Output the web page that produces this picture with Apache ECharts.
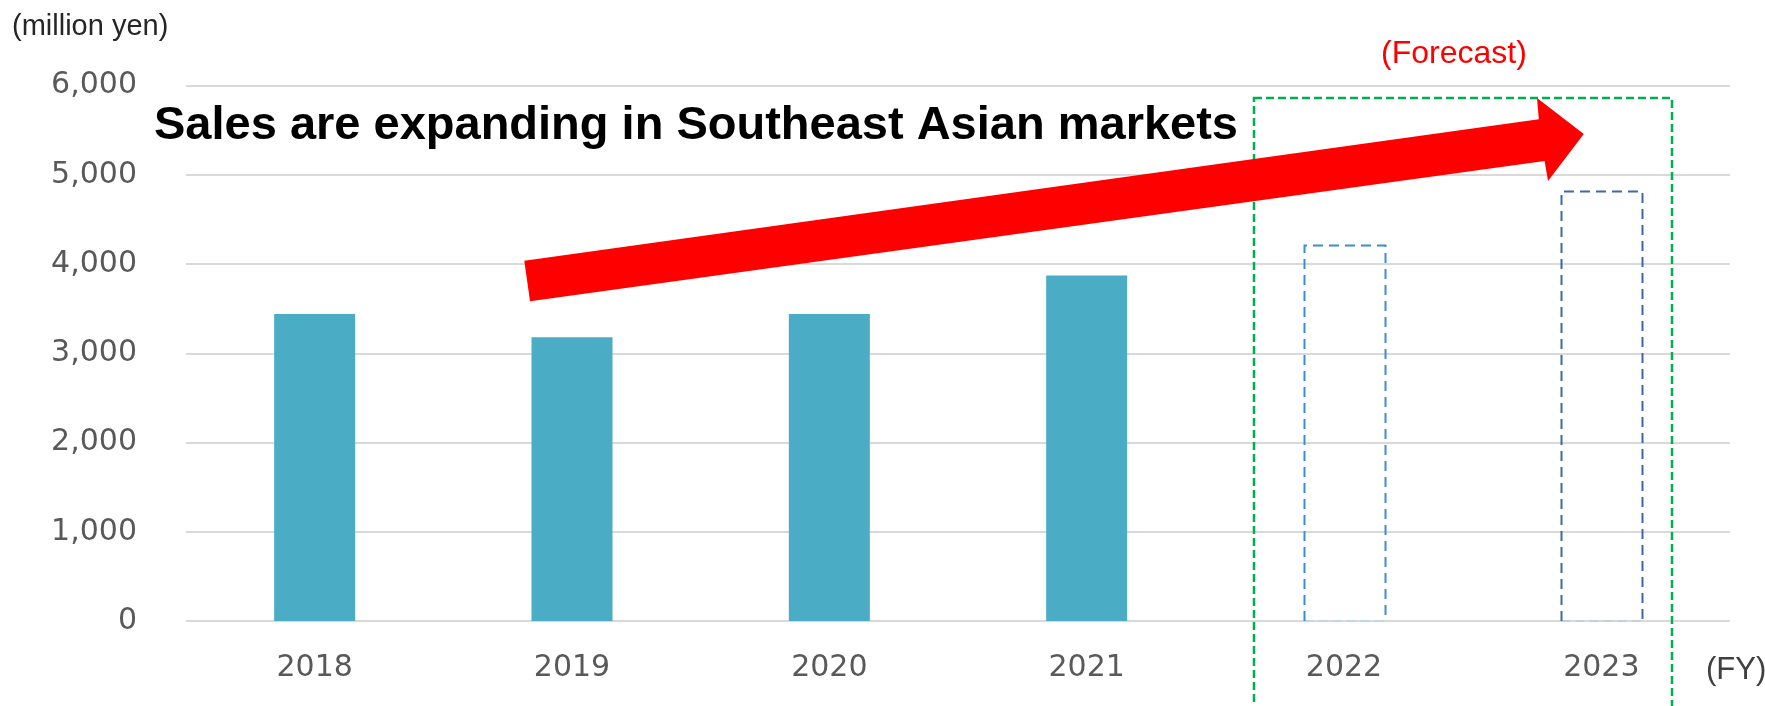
<!DOCTYPE html>
<html>
<head>
<meta charset="utf-8">
<title>Sales in Southeast Asian markets</title>
<script src="https://cdn.jsdelivr.net/npm/echarts@6/dist/echarts.min.js"></script>
<style>
  html, body { margin: 0; padding: 0; background: #ffffff; }
  #chart { width: 1765px; height: 706px; }
</style>
</head>
<body>
<div id="chart"></div>
<script>
// Fiscal years on the category axis
const years = ['2018', '2019', '2020', '2021', '2022', '2023'];
// Results (million yen); forecast years are left empty
const actualSales = [3440, 3180, 3440, 3870, null, null];
// Forecast (million yen)
const forecastSales = [null, null, null, null, 4210, 4820];
// Outline colours of the two forecast bars
const forecastStroke = ['#3A8FD3', '#3C69A6'];
const forecastBase = ['#BBD6EE', '#C3CEDF'];

const yMin = 0;
const yMax = 6000;
const yStep = 1000;

const BAR_WIDTH = 81;

const chart = echarts.init(document.getElementById('chart'), null, { renderer: 'canvas' });

const forecastData = [];
forecastSales.forEach(function (v, i) {
  if (v != null) forecastData.push([i, v]);
});

// Forecast bars: dashed outline, lighter dashed base on the zero line
function renderForecast(params, api) {
  const idx = api.value(0);
  const val = api.value(1);
  const top = api.coord([idx, val]);
  const base = api.coord([idx, 0]);
  const x0 = Math.round(top[0] - BAR_WIDTH / 2) + 0.5;
  const x1 = x0 + BAR_WIDTH;
  const yt = Math.round(top[1]) + 0.5;
  const yb = Math.round(base[1]);
  const k = params.dataIndex;
  return {
    type: 'group',
    children: [
      {
        type: 'line',
        shape: { x1: x0, y1: yb, x2: x1, y2: yb },
        style: { stroke: forecastBase[k], lineWidth: 2, lineDash: [9, 5] }
      },
      {
        type: 'polyline',
        shape: { points: [[x0, yb], [x0, yt], [x1, yt], [x1, yb]] },
        style: { stroke: forecastStroke[k], lineWidth: 2, lineDash: [10, 6], fill: null }
      }
    ]
  };
}

const option = {
  backgroundColor: '#ffffff',
  animation: false,
  grid: {
    left: 186,
    right: 35,
    top: 85.5,
    bottom: 85,
    containLabel: false,
    outerBoundsMode: 'none'
  },
  xAxis: {
    type: 'category',
    data: years,
    axisLine: { show: false },
    axisTick: { show: false },
    axisLabel: {
      margin: 32,
      color: '#595959',
      fontFamily: 'DejaVu Sans',
      fontSize: 30
    }
  },
  yAxis: {
    type: 'value',
    min: yMin,
    max: yMax,
    interval: yStep,
    axisLine: { show: false },
    axisTick: { show: false },
    splitLine: { lineStyle: { color: '#D9D9D9', width: 2 } },
    axisLabel: {
      margin: 49,
      color: '#595959',
      fontFamily: 'DejaVu Sans',
      fontSize: 30,
      padding: [0, 0, 10, 0],
      formatter: function (v) { return v.toLocaleString('en-US'); }
    }
  },
  series: [
    {
      name: 'Sales',
      type: 'bar',
      data: actualSales,
      barWidth: BAR_WIDTH,
      itemStyle: { color: '#4BACC6' }
    },
    {
      name: 'Forecast',
      type: 'custom',
      data: forecastData,
      renderItem: renderForecast,
      z: 3
    }
  ],
  graphic: [
    {
      type: 'text',
      x: 12,
      y: 27,
      style: {
        text: '(million yen)',
        fontFamily: 'Liberation Sans',
        fontSize: 29,
        fill: '#262626',
        align: 'left',
        verticalAlign: 'middle'
      }
    },
    {
      type: 'text',
      x: 1454,
      y: 54,
      style: {
        text: '(Forecast)',
        fontFamily: 'Liberation Sans',
        fontSize: 32,
        fill: '#FF0000',
        align: 'center',
        verticalAlign: 'middle'
      }
    },
    {
      type: 'text',
      x: 1706,
      y: 670,
      style: {
        text: '(FY)',
        fontFamily: 'Liberation Sans',
        fontSize: 31,
        fill: '#404040',
        align: 'left',
        verticalAlign: 'middle'
      }
    },
    {
      // forecast period frame
      type: 'rect',
      z: 10,
      shape: { x: 1254, y: 98, width: 418, height: 640 },
      style: { fill: null, stroke: '#00B050', lineWidth: 2.5, lineDash: [8, 4] }
    },
    {
      // growth arrow
      type: 'polygon',
      z: 20,
      shape: {
        points: [
          [524.3, 260.7],
          [1538.8, 119.3],
          [1537, 98],
          [1583.8, 134],
          [1548, 181],
          [1544.6, 161],
          [530, 301.3]
        ]
      },
      style: { fill: '#FF0000' }
    },
    {
      type: 'text',
      z: 30,
      x: 154,
      y: 126,
      style: {
        text: 'Sales are expanding in Southeast Asian markets',
        fontFamily: 'Liberation Sans',
        fontWeight: 'bold',
        fontSize: 47,
        fill: '#000000',
        align: 'left',
        verticalAlign: 'middle'
      }
    }
  ]
};

chart.setOption(option);
</script>
</body>
</html>
